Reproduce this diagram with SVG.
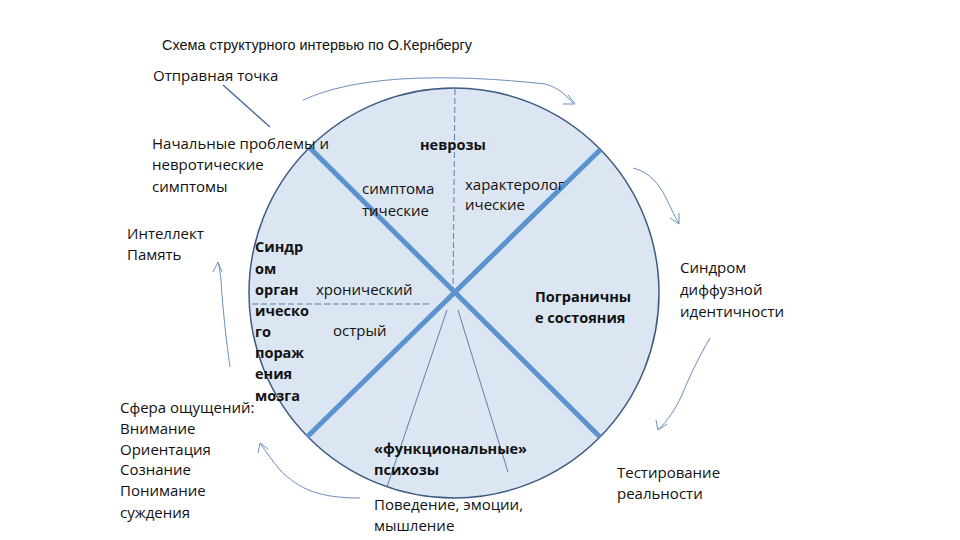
<svg xmlns="http://www.w3.org/2000/svg" width="960" height="540" viewBox="0 0 960 540">
<style>
text{font-family:"Open Sans","Noto Sans","DejaVu Sans",sans-serif;font-size:15px;fill:#111}
.b{font-weight:bold;font-size:14.5px}
.thick{stroke:#5b93cf;stroke-width:5;fill:none}
.dash{stroke:#5b7fa8;stroke-width:1;stroke-dasharray:6 3;fill:none}
.thin{stroke:#5b7fa8;stroke-width:1;fill:none}
.cur{stroke:#6a8fbf;stroke-width:1;fill:none}
</style>
<rect width="960" height="540" fill="#fff"/>
<text x="162" y="50" textLength="310" lengthAdjust="spacingAndGlyphs" style="font-family:'Liberation Sans',sans-serif;font-size:14px">Схема структурного интервью по О.Кернбергу</text>
<g id="circle">
<circle cx="454" cy="293" r="205" fill="#dce6f2" stroke="#3d5a80" stroke-width="1.5"/>
</g>
<g id="connectors">
<line class="dash" x1="455" y1="89" x2="453" y2="292"/>
<line class="dash" x1="252" y1="304" x2="432" y2="304"/>
<line class="thin" x1="447" y1="310" x2="387" y2="487"/>
<line class="thin" x1="458" y1="310" x2="508" y2="472"/>
<line class="thick" x1="309" y1="147" x2="600" y2="437"/>
<line class="thick" x1="600" y1="150" x2="307" y2="437"/>
<line x1="223" y1="85" x2="270" y2="127" stroke="#4a6f9a" stroke-width="1.5"/>
<path class="cur" d="M303 100 C330 88 360 82 400 79 C450 76 500 79 545 84 C560 88 566 96 573 103 M568 95 L575 104 L563 104"/>
<path class="cur" d="M633 168 C650 172 660 185 667 200 C672 210 675 217 679 224 M670 218 L679 224 L679 213"/>
<path class="cur" d="M710 338 C700 355 690 375 682 395 C675 410 668 420 658 430 M656 420 L658 430 L667 424"/>
<path class="cur" d="M360 498 C320 498 300 490 280 470 C272 460 266 452 260 443 M258 453 L260 443 L268 449"/>
<path class="cur" d="M230 367 C226 340 222 300 221 280 C220 272 219 266 218 262 M213 272 L218 262 L222 272"/>
</g>
<g id="start"><text x="153" y="81">Отправная точка</text></g>
<g id="initial"><text x="152" y="149">Начальные проблемы и</text><text x="152" y="170">невротические</text><text x="152" y="192">симптомы</text></g>
<g id="neuroses"><text class="b" x="420" y="150">неврозы</text></g>
<g id="symptomatic"><text x="362" y="194">симптома</text><text x="362" y="216">тические</text></g>
<g id="character"><text x="465" y="190">характеролог</text><text x="465" y="210">ические</text></g>
<g id="intellect"><text x="127" y="239">Интеллект</text><text x="127" y="260">Память</text></g>
<g id="organic"><text class="b" x="255" y="252">Синдр</text><text class="b" x="255" y="274">ом</text><text class="b" x="255" y="295">орган</text><text class="b" x="255" y="316">ическо</text><text class="b" x="255" y="337">го</text><text class="b" x="255" y="358">пораж</text><text class="b" x="255" y="379">ения</text><text class="b" x="255" y="401">мозга</text></g>
<g id="chronic"><text x="316" y="295">хронический</text></g>
<g id="acute"><text x="333" y="336">острый</text></g>
<g id="borderline"><text class="b" x="535" y="302">Пограничны</text><text class="b" x="535" y="323">е состояния</text></g>
<g id="diffuse"><text x="680" y="273">Синдром</text><text x="680" y="295">диффузной</text><text x="680" y="317">идентичности</text></g>
<g id="senses"><text x="120" y="413">Сфера ощущений:</text><text x="120" y="434">Внимание</text><text x="120" y="455">Ориентация</text><text x="120" y="475">Сознание</text><text x="120" y="496">Понимание</text><text x="120" y="518">суждения</text></g>
<g id="psychoses"><text class="b" x="374" y="454">«функциональные»</text><text class="b" x="374" y="475">психозы</text></g>
<g id="behaviour"><text x="374" y="510">Поведение, эмоции,</text><text x="374" y="531">мышление</text></g>
<g id="reality"><text x="617" y="478">Тестирование</text><text x="617" y="499">реальности</text></g>
</svg>
